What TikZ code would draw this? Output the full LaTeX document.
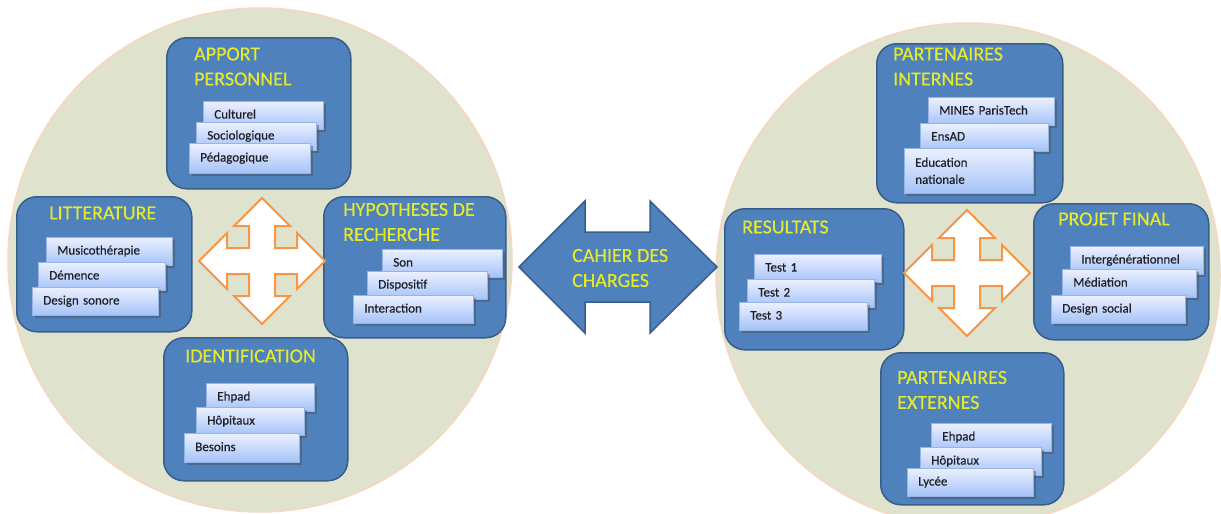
\documentclass[tikz,border=0pt]{standalone}
\usepackage{fontspec}
\setmainfont{Carlito}
\newfontfamily\cardfont[FakeBold=0.4]{Carlito}
\newfontfamily\titlefont[FakeBold=0.3]{Carlito}
\usetikzlibrary{shadows}
\definecolor{circfill}{RGB}{223,226,204}
\definecolor{circline}{RGB}{248,214,192}
\definecolor{boxfill}{RGB}{79,129,189}
\definecolor{boxline}{RGB}{56,93,138}
\definecolor{titlecol}{RGB}{230,234,40}
\definecolor{cardtop}{RGB}{236,241,255}
\definecolor{cardbot}{RGB}{164,194,248}
\definecolor{cardline}{RGB}{150,180,230}
\definecolor{crossline}{RGB}{247,150,70}
\definecolor{cardtext}{RGB}{30,30,36}
\begin{document}
\begin{tikzpicture}[x=1pt,y=-1pt,
  bigcircle/.style={fill=circfill,draw=circline,line width=1.5pt},
  bluebox/.style={rectangle,rounded corners=20pt,fill=boxfill,draw=boxline,line width=1.5pt,anchor=north west,inner sep=0pt},
  cardbox/.style={rectangle,anchor=north west,top color=cardtop,bottom color=cardbot,draw=cardline,line width=0.6pt,align=left,inner xsep=11pt,inner ysep=0pt,font=\cardfont\fontsize{13}{17}\selectfont,text=cardtext,minimum height=28pt,text height=9.5pt,text depth=3pt,drop shadow={shadow xshift=2.5pt,shadow yshift=-2.5pt,opacity=0.45,fill=black!70}},
  ttl/.style={anchor=west,inner sep=0pt,align=left,text=titlecol,font=\titlefont\fontsize{20}{25}\selectfont},
  crossarrow/.style={fill=white,draw=crossline,line width=2pt,line join=miter},
  bigarrow/.style={fill=boxfill,draw=boxline,line width=1.5pt}
]
\useasboundingbox (0,0) rectangle (1221,514);
\clip (0,0) rectangle (1221,514);
% circles
\draw[bigcircle] (260,260) circle (252pt);
\draw[bigcircle] (968,275) circle (252pt);

% ---------- left cluster ----------
\node[bluebox,minimum width=184pt,minimum height=151pt] (apport) at (166,37) {};
\node[bluebox,minimum width=175pt,minimum height=135pt] (litt) at (16,196) {};
\node[bluebox,minimum width=182pt,minimum height=141pt] (hyp) at (323,196) {};
\node[bluebox,minimum width=184pt,minimum height=143pt] (ident) at (163,337) {};

\coordinate (lx) at (262,261);
\draw[crossarrow,shift={(lx)}] (0,-63) -- (28,-35) -- (13,-35) -- (13,-13) -- (35,-13) -- (35,-28) -- (63,0) -- (35,28) -- (35,13) -- (13,13) -- (13,35) -- (28,35) -- (0,63) -- (-28,35) -- (-13,35) -- (-13,13) -- (-35,13) -- (-35,28) -- (-63,0) -- (-35,-28) -- (-35,-13) -- (-13,-13) -- (-13,-35) -- (-28,-35) -- cycle;

\node[ttl] (tapport) at (194,66.5) {APPORT\\PERSONNEL};
\node[ttl] (tlitt) at (49,213) {LITTERATURE};
\node[ttl] (thyp) at (343,222) {HYPOTHESES DE\\RECHERCHE};
\node[ttl] (tident) at (185,356) {IDENTIFICATION};

\node[cardbox,text width=98pt] (a1) at (203,101) {Culturel};
\node[cardbox,text width=98pt] (a2) at (196,122) {Sociologique};
\node[cardbox,text width=99pt,minimum height=30pt] (a3) at (189,143) {Pédagogique};

\node[cardbox,text width=104pt] (l1) at (46,237) {Musicothérapie};
\node[cardbox,text width=105pt] (l2) at (38,262) {Démence};
\node[cardbox,text width=104pt] (l3) at (32,287) {Design sonore};

\node[cardbox,text width=98pt] (h1) at (382,249) {Son};
\node[cardbox,text width=98pt] (h2) at (367,271) {Dispositif};
\node[cardbox,text width=98pt] (h3) at (353,295) {Interaction};

\node[cardbox,text width=86pt] (i1) at (206,383) {Ehpad};
\node[cardbox,text width=86pt] (i2) at (196,407) {Hôpitaux};
\node[cardbox,text width=93pt,minimum height=29pt] (i3) at (184,433) {Besoins};

% ---------- center arrow ----------
\draw[bigarrow] (519,267) -- (585,201) -- (585,232) -- (650,232) -- (650,201) -- (717,267) -- (650,333) -- (650,302) -- (585,302) -- (585,333) -- cycle;
\node[ttl] (cdc) at (572,268) {CAHIER DES\\CHARGES};

% ---------- right cluster ----------
\node[bluebox,minimum width=186pt,minimum height=159pt] (pint) at (876,43) {};
\node[bluebox,minimum width=179pt,minimum height=141pt] (res) at (724,208) {};
\node[bluebox,minimum width=175pt,minimum height=136pt] (pf) at (1033,203) {};
\node[bluebox,minimum width=183pt,minimum height=152pt] (pext) at (880,352) {};

\coordinate (rx) at (967,273);
\draw[crossarrow,shift={(rx)}] (0,-63) -- (28,-35) -- (13,-35) -- (13,-13) -- (35,-13) -- (35,-28) -- (63,0) -- (35,28) -- (35,13) -- (13,13) -- (13,35) -- (28,35) -- (0,63) -- (-28,35) -- (-13,35) -- (-13,13) -- (-35,13) -- (-35,28) -- (-63,0) -- (-35,-28) -- (-35,-13) -- (-13,-13) -- (-13,-35) -- (-28,-35) -- cycle;

\node[ttl] (tpint) at (893,66.5) {PARTENAIRES\\INTERNES};
\node[ttl] (tres) at (742,227) {RESULTATS};
\node[ttl] (tpf) at (1058,219) {PROJET FINAL};
\node[ttl] (tpext) at (897,390) {PARTENAIRES\\EXTERNES};

\node[cardbox,text width=104pt] (p1) at (928,97) {MINES ParisTech};
\node[cardbox,text width=106pt] (p2) at (920,123) {EnsAD};
\node[cardbox,text width=107pt,minimum height=45pt,text height=,text depth=] (p3) at (904,148) {Education\\nationale};

\node[cardbox,text width=105pt] (r1) at (754,254) {Test 1};
\node[cardbox,text width=105pt] (r2) at (747,279) {Test 2};
\node[cardbox,text width=106pt] (r3) at (739,302) {Test 3};

\node[cardbox,text width=111pt] (f1) at (1070,246) {Intergénérationnel};
\node[cardbox,text width=112pt] (f2) at (1062,269) {Médiation};
\node[cardbox,text width=112pt] (f3) at (1051,295) {Design social};

\node[cardbox,text width=98pt] (e1) at (931,423) {Ehpad};
\node[cardbox,text width=99pt] (e2) at (920,447) {Hôpitaux};
\node[cardbox,text width=104pt] (e3) at (907,468) {Lycée};
\end{tikzpicture}
\end{document}
